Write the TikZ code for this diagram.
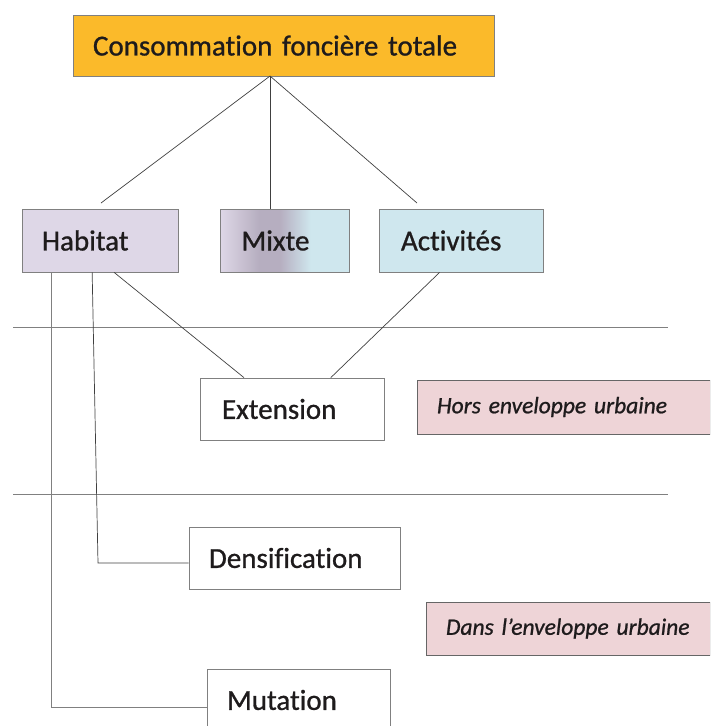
\documentclass[tikz,border=0pt]{standalone}
\usepackage{fontspec}
\setmainfont{Carlito}[FakeBold=0.9,Ligatures=NoCommon,ItalicFeatures={FakeBold=0.9}]
\definecolor{cforange}{RGB}{251,186,42}
\definecolor{cflav}{RGB}{222,215,231}
\definecolor{cfmix}{RGB}{182,174,192}
\definecolor{cfblue}{RGB}{207,231,238}
\definecolor{cfpink}{RGB}{238,212,215}
\definecolor{cfgray}{RGB}{128,128,128}
\definecolor{cftext}{RGB}{30,27,28}
\usetikzlibrary{positioning,calc}
\pgfdeclarehorizontalshading{mixteshade}{100bp}{color(0bp)=(cflav); color(25bp)=(cflav);
  color(40bp)=(cfmix); color(48bp)=(cfmix); color(60bp)=(cfblue); color(100bp)=(cfblue)}

\begin{document}
\begin{tikzpicture}[
  x=1pt,y=-1pt,
  every node/.style={text=cftext},
  cfbox/.style={draw=cfgray,line width=0.8pt,inner xsep=20pt,inner ysep=0pt,
                align=left,font=\fontsize{29}{34}\selectfont},
  zonebox/.style={cfbox,fill=cfpink,draw=cfgray!80!black,
                  font=\fontsize{23.5}{28}\selectfont\itshape},
  link/.style={line width=0.7pt,black!75},
  sep/.style={line width=0.9pt,cfgray},
]
  \clip (0,0) rectangle (710,726);

  % Total
  \node[cfbox,fill=cforange,text width=381pt,minimum height=61pt] (total) at (283.5,45.5)
    {Consommation foncière totale};

  % Destinations
  \node[cfbox,fill=cflav,text width=116pt,minimum height=63pt] (habitat) at (100,240.5) {Habitat};
  \node[cfbox,shading=mixteshade,text width=87pt,inner xsep=21pt,minimum height=63pt] (mixte)
    at (285,240.5) {Mixte};
  \node[cfbox,fill=cfblue,text width=120pt,inner xsep=22pt,minimum height=63pt] (activites)
    at (461,240.5) {Activités};

  % Modes
  \node[cfbox,fill=white,text width=140pt,inner xsep=22pt,minimum height=62pt] (extension)
    at (292,409) {Extension};
  \node[cfbox,fill=white,text width=171pt,minimum height=62pt] (densif)
    at (294.5,558) {Densification};
  \node[cfbox,fill=white,text width=143pt,minimum height=62pt] (mutation)
    at (298.5,700) {Mutation};

  % Zones
  \node[zonebox,text width=253pt,minimum height=54pt] (hors) at (563.5,407)
    {Hors enveloppe urbaine};
  \node[zonebox,text width=244pt,minimum height=53pt] (dans) at (568,628.5)
    {Dans l’enveloppe urbaine};

  % Separators
  \coordinate (sepA) at (13,327);
  \coordinate (sepB) at (13,494);
  \draw[sep] (sepA) -- ++(655,0);
  \draw[sep] (sepB) -- ++(655,0);

  % Links
  \coordinate (hub) at (270,76);
  \coordinate (habtop) at (101,203);
  \coordinate (acttop) at (417,203);
  \draw[link] (hub) -- (habtop);
  \draw[link] (hub) -- (hub |- mixte.north);
  \draw[link] (hub) -- (acttop);

  \draw[link] ($(habitat.south west)!0.59!(habitat.south east)$) -- ($(extension.north west)!0.24!(extension.north east)$);
  \draw[link] ($(activites.south west)!0.37!(activites.south east)$) -- ($(extension.north west)!0.71!(extension.north east)$);
  \draw[link] ($(habitat.south west)!0.45!(habitat.south east)$) -- (98,563) -- (densif.west |- 98,563);
  \draw[link,cfgray] ($(habitat.south west)!0.19!(habitat.south east)$) |- (mutation.west |- 0,707);
\end{tikzpicture}
\end{document}
